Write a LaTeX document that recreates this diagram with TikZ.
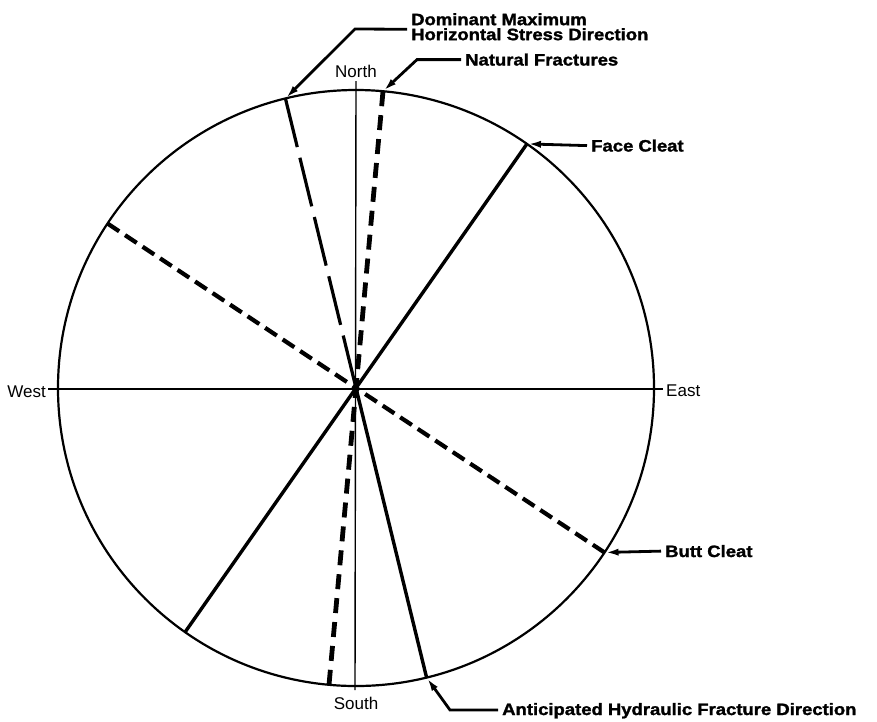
\documentclass[tikz,border=0pt]{standalone}
\usepackage{fontspec}
\setmainfont{Liberation Sans}
\newfontfamily\labfont{Liberation Sans}[FakeStretch=1.12, BoldFeatures={FakeBold=1.6}]
\usetikzlibrary{arrows.meta}
\begin{document}
\begin{tikzpicture}[x=1pt,y=1pt,
  lab/.style={font=\labfont\bfseries\fontsize{16.5}{15}\selectfont, inner sep=0pt, anchor=base west},
  compass/.style={font=\fontsize{17}{18}\selectfont, inner sep=0pt},
  leader/.style={line width=2.8pt, -{Latex[length=14pt,width=7pt]}},
  axisline/.style={line width=1.4pt},
  solidfeat/.style={line width=3.4pt},
  natdash/.style={line width=4.8pt, dash pattern=on 15pt off 9pt},
  buttdash/.style={line width=4.2pt, dash pattern=on 14pt off 7pt},
  stressdash/.style={line width=3.2pt, dash pattern=on 50pt off 11pt}
]
\useasboundingbox (0,0) rectangle (877,-721);
\coordinate (c) at (356,-388);
\def\R{298}
% circle
\draw[line width=2.2pt] (c) circle[radius=\R];
% compass axes
\coordinate (nTop) at (356,-81);
\coordinate (sBot) at (355,-690);
\coordinate (wEnd) at (48,-389);
\coordinate (eEnd) at (663,-389);
\draw[axisline] (nTop) -- (sBot);
\draw[axisline] (wEnd) -- (eEnd);
% feature end points on circle
\coordinate (nfT) at ([shift={(84.8:\R)}]c);
\coordinate (nfB) at ([shift={(264.8:\R)}]c);
\coordinate (sT)  at ([shift={(103.7:\R)}]c);
\coordinate (hB)  at ([shift={(283.7:\R)}]c);
\coordinate (faceT) at ([shift={(55:\R)}]c);
\coordinate (faceB) at ([shift={(235:\R)}]c);
\coordinate (buttT) at ([shift={(146.5:\R)}]c);
\coordinate (buttB) at ([shift={(326.5:\R)}]c);
% features
\draw[solidfeat] (faceT) -- (faceB);
\draw[solidfeat] (c) -- (hB);
\draw[stressdash] (sT) -- (c);
\draw[buttdash] (buttT) -- (c);
\draw[buttdash] (buttB) -- (c);
\draw[natdash] (nfT) -- (c);
\draw[natdash] (nfB) -- (c);
% compass labels
\node[compass, anchor=base] (north) at (356,-77) {North};
\node[compass, anchor=base] (south) at (356,-709) {South};
\node[compass, anchor=base east] (west) at (46,-397) {West};
\node[compass, anchor=base west] (east) at (666,-396) {East};
% feature labels
\node[font=\labfont\bfseries\fontsize{16.5}{15}\selectfont, inner sep=0pt, anchor=north west, align=left] (dom) at (411,-13) {Dominant Maximum\\Horizontal Stress Direction};
\node[lab] (nat) at (465,-65.5) {Natural Fractures};
\node[lab] (face) at (591,-151.5) {Face Cleat};
\node[lab] (butt) at (665,-557) {Butt Cleat};
\node[lab] (ant) at (502,-715) {Anticipated Hydraulic Fracture Direction};
% leaders
\draw[leader] ([shift={(-4pt,-2.5pt)}]dom.west) -- (355,-29) -- (sT);
\draw[leader] ([xshift=-4pt]nat.west) -- ++(-44,0) -- (nfT);
\draw[leader] ([xshift=-4pt]face.west) -- (faceT);
\draw[leader] ([xshift=-4pt]butt.west) -- (buttB);
\draw[leader] ([shift={(-4pt,5pt)}]ant.base west) -- ++(-48,0) -- (hB);
\end{tikzpicture}
\end{document}
